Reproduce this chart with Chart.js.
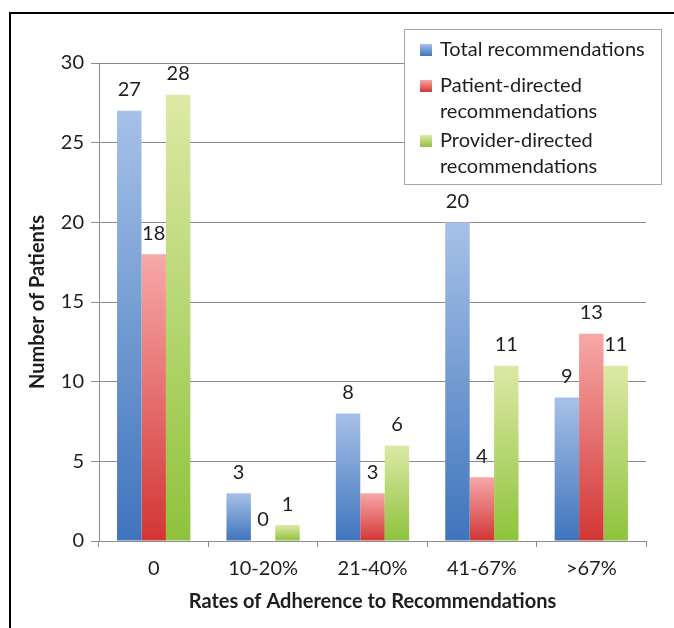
<!DOCTYPE html>
<html>
<head>
<meta charset="utf-8">
<script src="https://cdn.jsdelivr.net/npm/chart.js@4/dist/chart.umd.min.js"></script>
<style>
  html, body { margin: 0; padding: 0; background: #fff; }
  #wrap { position: relative; width: 674px; height: 628px; }
</style>
</head>
<body>
<div id="wrap"><canvas id="c" width="674" height="628"></canvas></div>
<script>
// Adherence categories and patient counts per recommendation type
const categories = ['0', '10-20%', '21-40%', '41-67%', '>67%'];
const totalRecs = [27, 3, 8, 20, 9];
const patientRecs = [18, 0, 3, 4, 13];
const providerRecs = [28, 1, 6, 11, 11];
const seriesNames = ['Total recommendations', 'Patient-directed recommendations', 'Provider-directed recommendations'];
const legendLines = [['Total recommendations'], ['Patient-directed', 'recommendations'], ['Provider-directed', 'recommendations']];
const yTicks = [0, 5, 10, 15, 20, 25, 30];

const FONT = 'Lato, "Open Sans", sans-serif';
const FS = 20;
const TEXT = '#1e1e1e';

// light-at-top / dark-at-bottom fills for each series
const shades = [
  { top: '#a6c1e7', bottom: '#3f74bc' },
  { top: '#f7a8a8', bottom: '#d23634' },
  { top: '#dde9a6', bottom: '#8ec33c' }
];

function barFill(idx) {
  return function (ctx) {
    const chart = ctx.chart;
    const area = chart.chartArea;
    if (!area || ctx.type !== 'data') return shades[idx].bottom;
    const y = chart.scales.y;
    const top = y.getPixelForValue(ctx.raw);
    const base = y.getPixelForValue(0);
    if (base - top < 1) return shades[idx].bottom;
    const g = chart.ctx.createLinearGradient(0, top, 0, base);
    g.addColorStop(0, shades[idx].top);
    g.addColorStop(1, shades[idx].bottom);
    return g;
  };
}

// outer frame on left and top
const framePlugin = {
  id: 'frame',
  beforeDraw(chart) {
    const c = chart.ctx;
    c.save();
    c.fillStyle = '#fff';
    c.fillRect(0, 0, chart.width, chart.height);
    c.strokeStyle = '#000';
    c.lineWidth = 2;
    c.beginPath();
    c.moveTo(10, chart.height);
    c.lineTo(10, 13);
    c.lineTo(chart.width, 13);
    c.stroke();
    c.restore();
  }
};

// value labels above each bar
const valueLabels = {
  id: 'valueLabels',
  afterDatasetsDraw(chart) {
    const c = chart.ctx;
    c.save();
    c.font = FS + 'px ' + FONT;
    c.fillStyle = TEXT;
    c.textAlign = 'center';
    c.textBaseline = 'middle';
    chart.data.datasets.forEach((ds, i) => {
      chart.getDatasetMeta(i).data.forEach((bar, j) => {
        c.fillText(String(ds.data[j]), bar.x, bar.y - 21);
      });
    });
    c.restore();
  }
};

// boxed legend inside the plot, top right
const boxLegend = {
  id: 'boxLegend',
  afterDraw(chart) {
    const c = chart.ctx;
    const bx = 404.5, by = 29.5, bw = 257, bh = 155;
    c.save();
    c.fillStyle = '#fff';
    c.fillRect(bx, by, bw, bh);
    c.strokeStyle = '#a6a6a6';
    c.lineWidth = 1;
    c.strokeRect(bx, by, bw, bh);
    c.font = FS + 'px ' + FONT;
    c.fillStyle = TEXT;
    c.textAlign = 'left';
    c.textBaseline = 'middle';
    const rows = [50, 86, 141];
    legendLines.forEach((lines, i) => {
      const cy = rows[i];
      const g = c.createLinearGradient(0, cy - 6, 0, cy + 6);
      g.addColorStop(0, shades[i].top);
      g.addColorStop(1, shades[i].bottom);
      c.fillStyle = g;
      c.fillRect(420, cy - 6, 12, 12);
      c.fillStyle = TEXT;
      lines.forEach((t, k) => c.fillText(t, 440, cy + k * 26));
    });
    c.restore();
  }
};

const datasets = [totalRecs, patientRecs, providerRecs].map((vals, i) => ({
  label: seriesNames[i],
  data: vals,
  backgroundColor: barFill(i),
  borderWidth: 0,
  categoryPercentage: 0.67,
  barPercentage: 1.0
}));

new Chart(document.getElementById('c'), {
  type: 'bar',
  data: { labels: categories, datasets },
  options: {
    responsive: false,
    animation: false,
    layout: { padding: { left: 0, right: 28, top: 63, bottom: 0 } },
    plugins: { legend: { display: false }, tooltip: { enabled: false } },
    scales: {
      x: {
        afterFit(s) { s.height = 87; },
        grid: { display: true, drawOnChartArea: false, offset: true, color: '#8c8c8c', tickLength: 6 },
        border: { display: true, color: '#8c8c8c', width: 1 },
        ticks: { color: TEXT, font: { family: FONT, size: FS }, padding: 10 },
        title: {
          display: true, text: 'Rates of Adherence to Recommendations', color: TEXT,
          font: { family: FONT, size: FS, weight: 'bold' }, padding: { top: 0, bottom: 14 }
        }
      },
      y: {
        min: 0, max: 30,
        afterFit(s) { s.width = 99; },
        afterBuildTicks(s) { s.ticks = yTicks.map(v => ({ value: v })); },
        grid: { color: '#8c8c8c', tickLength: 8 },
        border: { display: true, color: '#8c8c8c', width: 1 },
        ticks: { color: TEXT, font: { family: FONT, size: FS }, padding: 7 },
        title: {
          display: true, text: 'Number of Patients', color: TEXT,
          font: { family: FONT, size: FS, weight: 'bold' }, padding: { top: 26, bottom: 0 }
        }
      }
    }
  },
  plugins: [framePlugin, valueLabels, boxLegend]
});
</script>
</body>
</html>
